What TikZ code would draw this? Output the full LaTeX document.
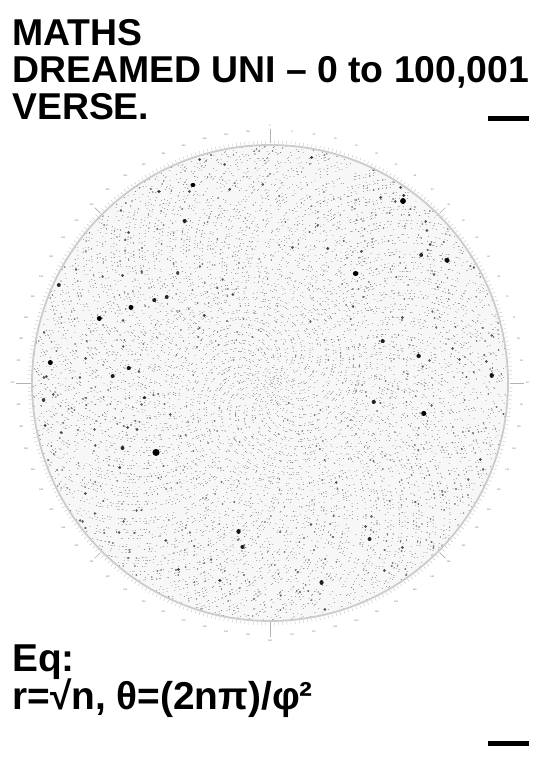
\documentclass[tikz,border=0pt]{standalone}
\usepackage{fontspec}
\setmainfont{Liberation Sans}
\usetikzlibrary{calc}
\ExplSyntaxOn
\cs_set_eq:Nc \md_invoke:n { pgfsys@invoke }
\intarray_new:Nn \g_md_intarray {100200}
\int_new:N \g_md_theta_int
\int_new:N \g_md_lastp_int
\int_new:N \g_md_lasttheta_int
\int_new:N \l_md_p_int
\int_new:N \l_md_g_int
\tl_new:N \l_md_r_tl
\tl_new:N \l_md_t_tl
\tl_new:N \l_md_x_tl
\tl_new:N \l_md_xx_tl
\tl_new:N \l_md_y_tl
\tl_new:N \l_md_w_tl
\tl_new:N \l_md_k_tl
\int_step_inline:nnn {1}{90}
 {
  \tl_new:c { g_md_c #1 _tl }
  \int_new:c { g_md_n #1 _int }
 }
\cs_new_protected:Npn \md_sieve:
 {
  \int_step_inline:nnn {2}{317}
   {
    \int_compare:nNnT {\intarray_item:Nn \g_md_intarray {##1}} = {0}
     {
      \int_step_inline:nnnn {##1*##1}{##1}{100200}
       { \intarray_gset:Nnn \g_md_intarray {####1} {1} }
     }
   }
 }
\cs_new_protected:Npn \md_flush:n #1
 {
  \tl_if_empty:cF { g_md_c #1 _tl }
   {
    \tl_set:Nx \l_md_w_tl { \fp_eval:n { round(2*(0.42 + 0.0006*(#1)*(#1)), 3) } }
    \tl_set:Nx \l_md_k_tl { \fp_eval:n { round(1 - min(100, 40 + 60*((#1)/58)^2)/100, 3) } }
    \exp_args:Nx \md_invoke:n
     {
      q ~ 1 ~ J ~ 1 ~ j ~
      \l_md_w_tl \c_space_tl w ~
      \l_md_k_tl \c_space_tl G ~
      \tl_use:c { g_md_c #1 _tl } S ~ Q
     }
    \tl_gclear:c { g_md_c #1 _tl }
    \int_gzero:c { g_md_n #1 _int }
   }
 }
\cs_new_protected:Npn \md_dot:nnn #1#2#3
 {
  \int_set:Nn \l_md_p_int {#1}
  \int_set:Nn \l_md_g_int { \int_min:nn {90} {#3} }
  \tl_set:Nx \l_md_t_tl { \fp_eval:n { (#2)/1000000 } }
  \tl_set:Nx \l_md_r_tl { \fp_eval:n { 238*sqrt(\int_use:N \l_md_p_int / 100001) } }
  \tl_set:Nx \l_md_x_tl { \fp_eval:n { round(270 + \l_md_r_tl * cosd(\l_md_t_tl), 2) } }
  \tl_set:Nx \l_md_y_tl { \fp_eval:n { round(382 + \l_md_r_tl * sind(\l_md_t_tl), 2) } }
  \tl_set:Nx \l_md_xx_tl { \fp_eval:n { \l_md_x_tl + 0.05 } }
  \tl_gput_right:cx { g_md_c \int_use:N \l_md_g_int _tl }
   { \l_md_x_tl \c_space_tl \l_md_y_tl \c_space_tl m \c_space_tl
     \l_md_xx_tl \c_space_tl \l_md_y_tl \c_space_tl l \c_space_tl }
  \int_gincr:c { g_md_n \int_use:N \l_md_g_int _int }
  \int_compare:nNnT { \int_use:c { g_md_n \int_use:N \l_md_g_int _int } } > {39}
   { \exp_args:Nx \md_flush:n { \int_use:N \l_md_g_int } }
 }
\cs_new_protected:Npn \md_run:
 {
  \int_gzero:N \g_md_theta_int
  \int_gzero:N \g_md_lastp_int
  \int_step_inline:nnn {1}{100150}
   {
    \int_gadd:Nn \g_md_theta_int {137507764}
    \int_compare:nNnF {\g_md_theta_int} < {360000000}
     { \int_gsub:Nn \g_md_theta_int {360000000} }
    \int_compare:nNnT {##1} > {1}
     {
      \int_compare:nNnT {\intarray_item:Nn \g_md_intarray {##1}} = {0}
       {
        \int_compare:nNnT {\g_md_lastp_int} > {0}
         {
          \int_compare:nNnT {\g_md_lastp_int} < {100002}
           { \md_dot:nnn {\g_md_lastp_int}{\g_md_lasttheta_int}{##1-\g_md_lastp_int} }
         }
        \int_gset:Nn \g_md_lastp_int {##1}
        \int_gset_eq:NN \g_md_lasttheta_int \g_md_theta_int
       }
     }
   }
 }
\cs_new_protected:Npn \md_emit:
 {
  \int_step_inline:nnn {1}{90} { \md_flush:n {##1} }
 }
\NewDocumentCommand \PrimeSpiral {} { \md_sieve: \md_run: \md_emit: }
\ExplSyntaxOff
\tikzset{
  titletext/.style={anchor=base west, inner sep=0pt, font=\fontsize{37.5}{37.5}\selectfont\bfseries},
  eqtext/.style={anchor=base west, inner sep=0pt, font=\fontsize{39}{39}\selectfont\bfseries},
  ringline/.style={draw=black!20, line width=1.8bp},
  minortick/.style={draw=black!30, line width=0.25bp},
  majortick/.style={draw=black!30, line width=0.7bp},
  ticklabel/.style={inner sep=0pt, text=black!60, font=\fontsize{2.3}{2.3}\selectfont},
  barline/.style={fill=black}
}
\begin{document}
\begin{tikzpicture}[x=1bp,y=1bp]
\useasboundingbox (0,0) rectangle (540,765);
\fill[white] (0,0) rectangle (540,765);
\coordinate (c) at (270,382);
\fill[black!3] (c) circle (238);
% minor ticks
\foreach \a in {0,...,359}{
  \draw[minortick] ([shift={(\a:239.5)}]c) -- ([shift={(\a:242.5)}]c);
}
% medium ticks at 45 degrees
\foreach \a in {45,135,225,315}{
  \draw[majortick] ([shift={(\a:240)}]c) -- ([shift={(\a:248)}]c);
}
% axis ticks
\foreach \a in {0,90,180,270}{
  \draw[majortick] ([shift={(\a:240)}]c) -- ([shift={(\a:254)}]c);
}
% labels
\foreach \a in {0,5,...,355}{
  \pgfmathtruncatemacro{\lbl}{mod(450-\a,360)}
  \pgfmathsetmacro{\rr}{ifthenelse(mod(\a,90)==0,257.5,252.5)}
  \node[ticklabel] (lab\a) at ([shift={(\a:\rr)}]c) {\lbl};
}
\PrimeSpiral
\draw[ringline] (c) circle (238);
% titles
\node[titletext] (t1) at (12,719.5) {MATHS};
\node[titletext] (t2) at (12,682) {DREAMED UNI – 0 to 100,001};
\node[titletext] (t3) at (12,645.5) {VERSE.};
\fill[barline] (488,649) rectangle (529,644);
\node[eqtext] (e1) at (12,93) {Eq:};
\node[eqtext] (e2) at (12,55) {r=√n, θ=(2nπ)/φ²};
\fill[barline] (488,24) rectangle (529,19);
\end{tikzpicture}
\end{document}
